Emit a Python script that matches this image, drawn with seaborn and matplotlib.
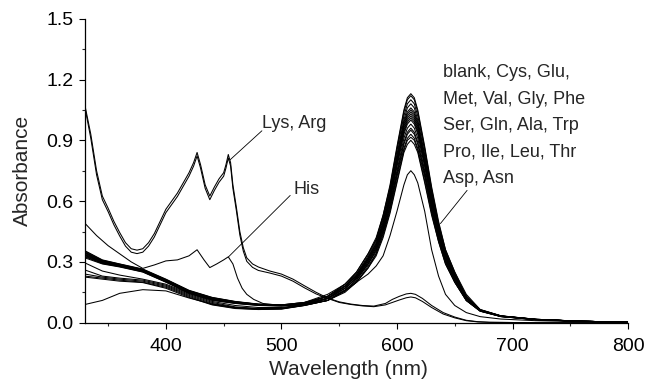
import pandas as pd
import matplotlib
matplotlib.use("Agg")
import matplotlib.pyplot as plt
import seaborn as sns
from matplotlib.ticker import MultipleLocator, AutoMinorLocator, FormatStrFormatter

# wavelength grids (nm)
wl_main = [330, 345, 360, 380, 400, 420, 440, 460, 480, 500, 520, 540, 555, 565, 575,
           582, 588, 594, 600, 606, 609, 612, 615, 618, 624, 630, 636, 642, 650, 660,
           672, 690, 720, 760, 800]
wl_his = [330, 340, 350, 360, 370, 380, 390, 400, 410, 420, 427, 433, 438, 444, 450,
          454, 458, 462, 466, 470, 476, 484, 500, 520, 540, 555, 565, 575, 582, 588,
          594, 600, 606, 609, 612, 615, 618, 624, 630, 636, 642, 650, 660, 672, 690,
          720, 760, 800]
wl_lys = [330, 335, 340, 345, 350, 355, 360, 365, 370, 375, 380, 385, 390, 395, 400,
          405, 410, 415, 420, 424, 427, 430, 434, 438, 442, 446, 450, 452, 454, 456,
          458, 461, 464, 467, 470, 475, 480, 490, 500, 510, 520, 530, 540, 550, 560,
          570, 580, 590, 596, 602, 608, 612, 616, 622, 630, 640, 650, 660, 670, 680,
          700, 720, 760, 800]

# absorbance
blank = [.355, .31, .29, .265, .215, .16, .125, .105, .092, .088, .10, .14, .19, .25, .34,
         .42, .53, .68, .87, 1.05, 1.11, 1.13, 1.11, 1.05, .87, .67, .50, .36, .25, .14,
         .065, .034, .017, .007, .003]
cys = [.352, .308, .289, .263, .213, .158, .124, .104, .091, .088, .10, .13, .19, .25, .34,
       .41, .53, .67, .86, 1.04, 1.10, 1.12, 1.10, 1.04, .86, .66, .49, .36, .25, .13,
       .065, .034, .017, .007, .003]
glu = [.348, .306, .287, .262, .212, .157, .122, .103, .091, .087, .10, .13, .19, .24, .33,
       .41, .52, .66, .85, 1.02, 1.08, 1.10, 1.08, 1.02, .85, .65, .48, .35, .24, .13,
       .063, .033, .017, .007, .003]
met = [.345, .304, .286, .260, .210, .155, .121, .102, .090, .087, .095, .13, .18, .24, .32,
       .40, .51, .65, .83, 1.00, 1.06, 1.08, 1.06, 1.00, .83, .64, .48, .35, .24, .13,
       .063, .033, .017, .007, .003]
val = [.342, .302, .284, .259, .209, .154, .119, .101, .090, .086, .095, .13, .18, .23, .32,
       .39, .50, .64, .82, .99, 1.04, 1.06, 1.04, .99, .82, .63, .47, .34, .23, .13,
       .062, .033, .016, .007, .003]
gly = [.338, .300, .283, .257, .207, .152, .118, .100, .089, .086, .095, .13, .18, .23, .32,
       .39, .49, .63, .81, .98, 1.03, 1.05, 1.03, .98, .81, .62, .46, .34, .23, .13,
       .062, .033, .016, .007, .003]
phe = [.335, .298, .281, .256, .206, .151, .117, .099, .088, .085, .095, .12, .18, .23, .31,
       .38, .49, .62, .80, .97, 1.02, 1.04, 1.02, .97, .80, .61, .46, .33, .23, .12,
       .062, .033, .016, .007, .003]
ser = [.332, .296, .280, .254, .204, .149, .115, .098, .088, .085, .09, .12, .18, .23, .31,
       .38, .48, .62, .79, .96, 1.01, 1.03, 1.01, .96, .79, .61, .45, .33, .23, .12,
       .061, .032, .016, .007, .003]
gln = [.328, .294, .278, .253, .203, .148, .114, .097, .087, .084, .09, .12, .17, .22, .31,
       .38, .48, .61, .79, .95, 1.00, 1.02, 1.00, .95, .79, .60, .45, .33, .22, .12,
       .061, .032, .016, .007, .003]
ala = [.325, .292, .277, .251, .201, .146, .112, .096, .086, .083, .09, .12, .17, .22, .30,
       .37, .47, .61, .78, .94, .99, 1.01, .99, .94, .78, .60, .44, .32, .22, .12,
       .061, .032, .016, .007, .003]
trp = [.320, .290, .275, .250, .200, .145, .110, .095, .085, .082, .09, .12, .17, .22, .30,
       .37, .47, .60, .77, .93, .98, 1.00, .98, .93, .77, .59, .44, .32, .22, .12,
       .06, .032, .016, .007, .003]
pro = [.295, .255, .235, .215, .19, .145, .105, .085, .075, .075, .09, .12, .17, .22, .29,
       .36, .46, .59, .75, .91, .96, .98, .96, .91, .75, .58, .43, .31, .22, .12,
       .06, .032, .016, .007, .003]
ile = [.26, .23, .22, .21, .185, .14, .10, .078, .07, .072, .088, .12, .16, .21, .29,
       .36, .45, .58, .74, .89, .94, .96, .94, .89, .74, .57, .42, .31, .21, .12,
       .06, .031, .016, .007, .003]
leu = [.24, .225, .215, .205, .18, .135, .095, .075, .068, .07, .087, .11, .16, .21, .29,
       .35, .45, .57, .73, .88, .93, .95, .93, .88, .73, .56, .42, .30, .21, .11,
       .058, .031, .015, .007, .003]
thr = [.23, .22, .21, .20, .175, .13, .09, .072, .066, .068, .086, .11, .16, .20, .28,
       .34, .44, .56, .72, .86, .91, .93, .91, .86, .72, .55, .41, .30, .20, .11,
       .058, .031, .015, .007, .003]
asp = [.225, .215, .205, .198, .17, .125, .088, .07, .065, .067, .085, .11, .16, .20, .27,
       .34, .43, .55, .70, .85, .90, .915, .90, .85, .70, .54, .40, .29, .20, .11,
       .057, .03, .015, .007, .003]
asn = [.09, .11, .145, .163, .157, .122, .092, .075, .068, .07, .085, .11, .15, .20, .27,
       .33, .42, .54, .69, .84, .88, .90, .88, .84, .69, .53, .40, .29, .20, .11,
       .057, .03, .015, .007, .003]
his = [.49, .43, .38, .34, .30, .268, .285, .305, .31, .33, .36, .31, .272, .29, .31,
       .325, .29, .22, .17, .14, .115, .095, .085, .09, .11, .155, .20, .24, .28, .33,
       .43, .55, .68, .73, .75, .73, .69, .55, .36, .23, .14, .085, .05, .03, .018,
       .01, .005, .002]
lys = [1.07, .93, .75, .625, .565, .50, .445, .395, .365, .358, .365, .395, .44, .50, .56,
       .60, .64, .69, .74, .79, .84, .78, .68, .625, .67, .71, .74, .78, .83, .79,
       .68, .57, .45, .37, .32, .29, .275, .255, .24, .215, .182, .15, .122, .103, .092,
       .085, .082, .095, .115, .13, .142, .145, .14, .12, .085, .05, .028, .012, .005, .002,
       .001, 0, 0, 0]
arg = [1.06, .91, .73, .607, .548, .483, .428, .378, .348, .341, .348, .378, .423, .483, .543,
       .583, .623, .673, .723, .773, .823, .763, .663, .607, .653, .693, .723, .763, .813, .773,
       .663, .553, .433, .353, .303, .273, .258, .245, .23, .205, .172, .142, .12, .10, .09,
       .083, .079, .088, .10, .112, .123, .127, .123, .105, .075, .043, .024, .01, .004, .002,
       .001, 0, 0, 0]

main_names = ["blank", "Cys", "Glu", "Met", "Val", "Gly", "Phe", "Ser", "Gln", "Ala",
              "Trp", "Pro", "Ile", "Leu", "Thr", "Asp", "Asn"]
main_values = [blank, cys, glu, met, val, gly, phe, ser, gln, ala,
               trp, pro, ile, leu, thr, asp, asn]

group_text = ["blank, Cys, Glu,", "Met, Val, Gly, Phe", "Ser, Gln, Ala, Trp",
              "Pro, Ile, Leu, Thr", "Asp, Asn"]

# long table for seaborn
frames = []
for name, ab in zip(main_names, main_values):
    frames.append(pd.DataFrame({"wavelength": wl_main, "absorbance": ab, "sample": name}))
frames.append(pd.DataFrame({"wavelength": wl_his, "absorbance": his, "sample": "His"}))
frames.append(pd.DataFrame({"wavelength": wl_lys, "absorbance": lys, "sample": "Lys"}))
frames.append(pd.DataFrame({"wavelength": wl_lys, "absorbance": arg, "sample": "Arg"}))
df = pd.concat(frames, ignore_index=True)

sns.set_style("ticks")
plt.rcParams["font.family"] = ["Liberation Sans", "DejaVu Sans"]

fig = plt.figure(figsize=(6.46, 3.84), dpi=100)
ax = fig.add_axes([0.1316, 0.1596, 0.8406, 0.7917])

sns.lineplot(data=df, x="wavelength", y="absorbance", units="sample", estimator=None,
             sort=False, color="black", lw=0.75, legend=False, ax=ax)

ax.set_xlim(330, 800)
ax.set_ylim(0, 1.5)
ax.xaxis.set_major_locator(MultipleLocator(100))
ax.xaxis.set_minor_locator(AutoMinorLocator(2))
ax.yaxis.set_major_locator(MultipleLocator(0.3))
ax.yaxis.set_minor_locator(AutoMinorLocator(2))
ax.yaxis.set_major_formatter(FormatStrFormatter("%.1f"))

sns.despine(ax=ax)
for side in ["left", "bottom"]:
    ax.spines[side].set_linewidth(0.9)
    ax.spines[side].set_color("black")

ax.tick_params(which="major", direction="out", length=4, width=0.8, labelsize=14,
               colors="black")
ax.tick_params(which="minor", direction="out", length=2.5, width=0.8)
ax.tick_params(axis="x", which="major", pad=7)
ax.tick_params(axis="y", which="major", pad=4.3)

ax.set_xlabel("Wavelength (nm)", fontsize=15)
ax.set_ylabel("Absorbance", fontsize=15)
ax.xaxis.set_label_coords(0.485, -0.123)
ax.yaxis.set_label_coords(-0.098, 0.5)

# labels and leader lines
line_kw = dict(arrowstyle="-", lw=0.6, color="black", shrinkA=0, shrinkB=0)
ax.annotate("", xy=(455.6, 0.804), xytext=(483.1, 0.947), arrowprops=line_kw)
ax.text(483.4, 0.961, "Lys, Arg", fontsize=13, va="baseline")
ax.annotate("", xy=(454.2, 0.325), xytext=(507.6, 0.628), arrowprops=line_kw)
ax.text(510.5, 0.637, "His", fontsize=13, va="baseline")
ax.annotate("", xy=(637.6, 0.489), xytext=(660.7, 0.653), arrowprops=line_kw)
for i, line in enumerate(group_text):
    ax.text(640.2, 1.213 - i * 0.1315, line, fontsize=13, va="baseline")

fig.savefig("out.png", dpi=100)
